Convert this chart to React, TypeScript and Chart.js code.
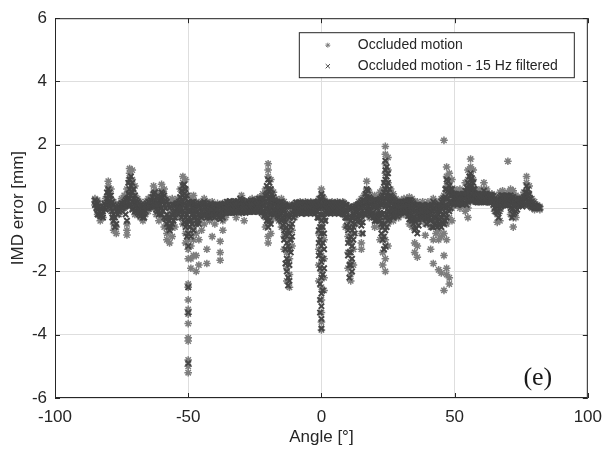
import React, { useEffect, useRef } from "react";
import { Chart, registerables } from "chart.js";

Chart.register(...registerables);

// ---------- data (angle in degrees, followed by the IMD errors in mm seen at that angle) ----------
const xTicks = [-100, -50, 0, 50, 100];
const yTicks = [-6, -4, -2, 0, 2, 4, 6];
const legendLabels = ["Occluded motion", "Occluded motion - 15 Hz filtered"];
const xTitle = "Angle [°]";
const yTitle = "IMD error [mm]";
const panelLabel = "(e)";

const occLeft: number[][] = [
  [-85, 0.3, 0.2, 0.1],
  [-84, 0.25, 0, -0.1, -0.2],
  [-83, 0.1, -0.2, -0.3, -0.4],
  [-82, 0.05, -0.3],
  [-81, 0.3, 0.1, 0],
  [-80, 0.85, 0.7, 0.55, 0.4, 0.2],
  [-79, 0.6, 0.3, 0.1, -0.1],
  [-78, 0.2, -0.3, -0.5, -0.7],
  [-77, 0.1, -0.6, -0.8],
  [-76, 0.15, 0, -0.2],
  [-75, 0.3, 0.1, -0.1],
  [-74, 0.4, 0.2, 0],
  [-73, 0.6, 0.3, -0.5, -0.7, -0.85],
  [-72, 1.25, 1.1, 0.95, 0.8, 0.5, 0.2],
  [-71, 1.2, 0.9, 0.6, 0.3, 0],
  [-70, 0.7, 0.4, 0.1, -0.2],
  [-69, 0.3, 0.1, -0.1],
  [-68, 0.2, 0, -0.3],
  [-67, 0.1, -0.1, -0.4],
  [-66, 0.2, 0, -0.2],
  [-65, 0.3, 0.1, -0.1],
  [-64, 0.35, 0.15, 0],
  [-63, 0.7, 0.5, 0.2, 0],
  [-62, 0.55, 0.3, 0.1, -0.2],
  [-61, 0.4, 0.2, 0, -0.4],
  [-60, 0.75, 0.55, 0.3, 0, -0.3],
  [-59, 0.6, 0.3, 0, -0.6],
  [-58, 0.3, 0.1, -0.5, -0.8, -1.0],
  [-57, 0.2, -0.2, -0.7, -1.1],
  [-56, 0.3, 0, -0.5, -0.9],
  [-55, 0.2, 0, -0.3, -0.6],
  [-54, 0.3, 0, -0.2],
  [-53, 0.6, 0.3, 0, -0.3],
  [-52, 1.0, 0.8, 0.5, 0.2, -0.1, -0.5],
  [-51, 0.9, 0.6, 0.3, 0, -0.4, -0.8, -1.1],
  [-50, 0.4, 0.1, -0.3, -0.6, -1.0, -1.3, -1.6, -2.4, -2.5, -2.9, -3.2, -3.35, -3.65, -4.1, -4.2, -4.8, -5.0, -5.2],
  [-49, 0.3, 0, -0.4, -0.8, -1.2, -1.6, -1.9],
  [-48, 0.4, 0.1, -0.2, -0.6, -1.0, -1.5],
  [-47, 0.2, 0, -0.3, -0.8, -1.5, -2.0],
  [-46, 0.15, -0.1, -0.4, -1.0, -1.8],
  [-45, 0.2, 0, -0.3, -0.7],
  [-44, 0.3, 0.1, -0.2, -0.5],
  [-43, 0.2, 0, -0.3, -1.3, -1.75],
  [-42, 0.15, -0.1, -0.4],
  [-41, 0.2, 0, -0.3, -0.9],
  [-40, 0.1, -0.1, -0.5],
  [-39, 0.15, -0.1, -0.3],
  [-38, 0.1, -0.2, -1.05, -1.4, -1.65],
  [-37, 0.15, -0.1, -0.4, -0.7],
  [-36, 0.1, 0, -0.3],
];

const occMid: number[][] = [
  [-35, 0.2, 0.05, -0.15],
  [-34, 0.15, -0.05],
  [-33, 0.2, 0, -0.1],
  [-32, 0.15, -0.05, -0.3],
  [-31, 0.2, 0.05, -0.1],
  [-30, 0.4, 0.2, 0, -0.15],
  [-29, 0.2, 0, -0.1, -0.4],
  [-28, 0.15, -0.05],
  [-27, 0.2, 0, -0.1],
  [-26, 0.3, 0.1, -0.1],
  [-25, 0.2, 0, -0.1],
  [-24, 0.3, 0.1, -0.05],
  [-23, 0.35, 0.15, -0.1],
  [-22, 0.45, 0.2, -0.2],
  [-21, 0.6, 0.3, 0, -0.3, -0.6],
  [-20, 1.4, 1.2, 1.0, 0.5, 0.2, -0.1, -0.5, -0.9, -1.1],
  [-19, 0.9, 0.6, 0.3, 0, -0.4, -0.8],
  [-18, 0.5, 0.2, -0.1, -0.3],
  [-17, 0.3, 0.1, -0.1, -0.2],
  [-16, 0.2, 0, -0.2, -0.4],
  [-15, 0.3, 0.1, -0.3, -0.6],
  [-14, 0.2, 0, -0.4, -0.9, -1.3],
  [-13, 0.1, -0.3, -0.8, -1.4, -1.9, -2.3],
  [-12, 0.1, -0.4, -1.0, -1.6, -2.1, -2.5],
  [-11, 0.1, -0.2, -0.7, -1.2],
  [-10, 0.15, 0, -0.3],
  [-9, 0.15, 0, -0.1],
  [-8, 0.2, 0.05],
  [-7, 0.15, -0.05],
  [-6, 0.2, 0, -0.1],
  [-5, 0.15, -0.05],
  [-4, 0.2, 0, -0.1],
  [-3, 0.15, -0.05],
  [-2, 0.2, 0, -0.15],
  [-1, 0.3, 0.1, -0.3, -0.8, -1.3, -1.8, -2.3],
  [0, 0.6, 0.4, 0.2, -0.2, -0.6, -1.0, -1.5, -2.0, -2.5, -2.9, -3.3, -3.6, -3.85],
  [1, 0.3, 0.1, -0.4, -1.0, -1.6, -2.2, -2.6],
  [2, 0.2, 0, -0.15],
  [3, 0.15, -0.05],
  [4, 0.2, 0, -0.1],
  [5, 0.15, -0.05],
  [6, 0.2, 0, -0.1],
  [7, 0.15, -0.05, -0.15],
  [8, 0.2, 0, -0.2],
  [9, 0.1, -0.3, -0.6],
  [10, 0.05, -0.4, -0.9, -1.4, -1.9],
  [11, 0, -0.5, -1.1, -1.7, -2.1, -2.3],
  [12, 0.05, -0.3, -0.8, -1.3, -1.8],
  [13, 0.1, -0.2, -0.5],
  [14, 0.2, 0, -0.3],
  [15, 0.3, 0.1, -0.4, -0.8, -1.1, -1.3],
  [16, 0.4, 0.1, -0.2],
  [17, 0.85, 0.6, 0.4, 0.1, -0.2],
  [18, 0.5, 0.3, 0, -0.3],
  [19, 0.3, 0.1, -0.2],
  [20, 0.4, 0.1, -0.3, -0.6],
  [21, 0.3, 0, -0.4],
  [22, 0.5, 0.2, -0.2, -0.6, -1.0],
  [23, 0.6, 0.3, -0.3, -0.9, -1.4, -1.8],
  [24, 1.95, 1.7, 1.4, 1.1, 0.8, 0.5, 0.2, -0.4, -1.0, -1.6, -2.0],
  [25, 1.6, 1.2, 0.8, 0.4, 0, -0.5, -1.2],
];

const occRight: number[][] = [
  [26, 0.6, 0.3, 0, -0.3],
  [27, 0.45, 0.2, -0.1, -0.4],
  [28, 0.3, 0.1, -0.2],
  [29, 0.2, 0, -0.3],
  [30, 0.25, 0, -0.2],
  [31, 0.3, 0.05, -0.2],
  [32, 0.3, 0.1, -0.15],
  [33, 0.35, 0.1, -0.2, -0.5],
  [34, 0.3, 0, -0.3, -0.6],
  [35, 0.2, -0.1, -0.6, -1.1, -1.4],
  [36, 0.2, -0.2, -0.5, -1.2, -1.55],
  [37, 0.1, -0.1, -0.4],
  [38, 0.2, 0, -0.3],
  [39, 0.1, -0.2, -0.5, -0.86],
  [40, 0.2, -0.1, -0.4],
  [41, 0.1, -0.2, -0.6, -1.3],
  [42, 0.3, 0, -0.5, -1.0, -1.75],
  [43, 0.2, -0.1, -0.4, -0.8],
  [44, 0.1, -0.3, -0.7, -1.0, -1.95],
  [45, 0.3, 0, -0.4, -0.9, -2.05],
  [46, 2.14, 0.4, 0.1, -0.3, -0.8, -1.5, -2.6],
  [47, 1.3, 1.0, 0.7, 0.4, 0, -0.5, -1.0, -1.9, -2.1],
  [48, 1.1, 0.8, 0.5, 0.2, -0.3, -2.2, -2.4],
  [49, 0.9, 0.6, 0.3, 0, -0.4],
  [50, 0.6, 0.4, 0.1],
  [51, 0.5, 0.3, 0.1],
  [52, 0.6, 0.4, 0.2, 0],
  [53, 0.5, 0.3, 0.1],
  [54, 0.8, 0.5, 0.2, -0.1],
  [55, 1.2, 0.9, 0.6, 0.3, 0, -0.3],
  [56, 1.55, 1.3, 1.0, 0.7, 0.4, 0.2],
  [57, 1.2, 0.9, 0.6, 0.3],
  [58, 0.6, 0.4, 0.2],
  [59, 0.5, 0.3, 0.2],
  [60, 0.6, 0.4, 0.2],
  [61, 0.8, 0.6, 0.3],
  [62, 0.6, 0.4, 0.2],
  [63, 0.45, 0.3, 0.2],
  [64, 0.45, 0.3, 0.2],
  [65, 0.4, 0.2, -0.1],
  [66, 0.3, 0.1, -0.2, -0.45],
  [67, 0.5, 0.3, -0.1, -0.4],
  [68, 0.55, 0.3, 0.1],
  [69, 0.4, 0.25, 0.1],
  [70, 1.48, 0.5, 0.3, 0.1],
  [71, 0.6, 0.3, 0.1, -0.2],
  [72, 0.55, 0.2, -0.3, -0.6],
  [73, 0.4, 0.1, -0.3],
  [74, 0.3, 0.1],
  [75, 0.35, 0.15],
  [76, 0.5, 0.3, 0.1],
  [77, 1.0, 0.8, 0.55, 0.3],
  [78, 0.7, 0.4, 0.1],
  [79, 0.3, 0.1, 0],
  [80, 0.2, 0, -0.05],
  [81, 0.1, 0],
  [82, 0.05, -0.05],
];

const filtLeft: number[][] = [
  [-85, 0.25, 0.1],
  [-84, 0.15, -0.05, -0.2],
  [-83, 0, -0.25],
  [-82, -0.1, -0.3],
  [-81, 0.1, -0.05],
  [-80, 0.6, 0.4, 0.2],
  [-79, 0.4, 0.15, 0],
  [-78, 0.1, -0.2, -0.4],
  [-77, -0.1, -0.5],
  [-76, 0.05, -0.1],
  [-75, 0.15, 0],
  [-74, 0.2, 0.05],
  [-73, 0.3, 0.1, -0.4],
  [-72, 0.9, 0.6, 0.3, 0.1],
  [-71, 0.8, 0.5, 0.2, -0.05],
  [-70, 0.4, 0.15, -0.1],
  [-69, 0.2, 0, -0.15],
  [-68, 0.1, -0.1, -0.25],
  [-67, 0.05, -0.2, -0.3],
  [-66, 0.1, -0.1],
  [-65, 0.2, 0],
  [-64, 0.25, 0.05],
  [-63, 0.45, 0.2, 0.05],
  [-62, 0.35, 0.15, -0.05],
  [-61, 0.25, 0.05, -0.2],
  [-60, 0.5, 0.25, 0, -0.2],
  [-59, 0.4, 0.1, -0.3],
  [-58, 0.2, -0.2, -0.5],
  [-57, 0, -0.4, -0.7],
  [-56, 0.1, -0.2, -0.5],
  [-55, 0.1, -0.1, -0.3],
  [-54, 0.15, -0.05],
  [-53, 0.35, 0.1, -0.1],
  [-52, 0.7, 0.4, 0.1, -0.2],
  [-51, 0.6, 0.3, 0, -0.3, -0.6],
  [-50, 0.2, -0.1, -0.4, -0.8, -1.2, -2.5, -3.3, -4.9],
  [-49, 0.15, -0.1, -0.4, -0.9],
  [-48, 0.2, 0, -0.3, -0.7],
  [-47, 0.1, -0.15, -0.5],
  [-46, 0.05, -0.2, -0.5],
  [-45, 0.1, -0.1, -0.3],
  [-44, 0.2, 0, -0.25],
  [-43, 0.1, -0.1, -0.3],
  [-42, 0.05, -0.15, -0.3],
  [-41, 0.1, -0.1, -0.25],
  [-40, 0.05, -0.15, -0.3],
  [-39, 0.1, -0.05, -0.2],
  [-38, 0.05, -0.15, -0.35],
  [-37, 0.1, -0.1, -0.3],
  [-36, 0.1, 0, -0.15],
];

const filtMid: number[][] = [
  [-35, 0.15, 0.05, -0.1],
  [-34, 0.12, 0, -0.1],
  [-33, 0.15, 0.05, -0.05],
  [-32, 0.12, 0.02, -0.1],
  [-31, 0.15, 0.05, -0.05],
  [-30, 0.25, 0.1, 0, -0.1],
  [-29, 0.15, 0.05, -0.05],
  [-28, 0.12, 0.02, -0.08],
  [-27, 0.15, 0.05, -0.05],
  [-26, 0.2, 0.08, -0.05],
  [-25, 0.15, 0.05, -0.05],
  [-24, 0.2, 0.1, 0],
  [-23, 0.25, 0.1, -0.05],
  [-22, 0.3, 0.1, -0.1],
  [-21, 0.4, 0.2, 0, -0.2],
  [-20, 0.9, 0.6, 0.3, 0, -0.3, -0.6],
  [-19, 0.6, 0.35, 0.1, -0.2, -0.5],
  [-18, 0.35, 0.15, -0.05, -0.2],
  [-17, 0.2, 0.05, -0.1],
  [-16, 0.15, 0, -0.15, -0.3],
  [-15, 0.2, 0.05, -0.15, -0.4],
  [-14, 0.1, -0.1, -0.35, -0.7, -1.0],
  [-13, 0.05, -0.2, -0.6, -1.1, -1.6, -2.0],
  [-12, 0.05, -0.3, -0.8, -1.3, -1.8, -2.3],
  [-11, 0.05, -0.15, -0.5, -0.9],
  [-10, 0.1, 0, -0.2],
  [-9, 0.12, 0.02, -0.08],
  [-8, 0.15, 0.05, -0.05],
  [-7, 0.12, 0.02, -0.1],
  [-6, 0.15, 0.05, -0.05],
  [-5, 0.12, 0, -0.1],
  [-4, 0.15, 0.05, -0.05],
  [-3, 0.12, 0.02, -0.1],
  [-2, 0.15, 0.03, -0.1],
  [-1, 0.2, 0, -0.3, -0.7, -1.1, -1.5],
  [0, 0.45, 0.25, 0, -0.4, -0.8, -1.2, -1.7, -2.2, -2.7, -3.1, -3.5, -3.8],
  [1, 0.2, 0, -0.3, -0.8, -1.3, -1.9],
  [2, 0.15, 0.05, -0.1],
  [3, 0.12, 0.02, -0.08],
  [4, 0.15, 0.05, -0.05],
  [5, 0.12, 0, -0.1],
  [6, 0.15, 0.05, -0.05],
  [7, 0.1, 0, -0.1],
  [8, 0.12, 0, -0.15],
  [9, 0.1, -0.1, -0.3],
  [10, 0, -0.3, -0.7, -1.1, -1.5],
  [11, -0.05, -0.4, -0.9, -1.4, -1.8],
  [12, 0, -0.2, -0.6, -1.0],
  [13, 0.05, -0.15, -0.35],
  [14, 0.12, -0.05, -0.2],
  [15, 0.2, 0, -0.25, -0.55],
  [16, 0.25, 0.05, -0.15],
  [17, 0.6, 0.35, 0.15, -0.1],
  [18, 0.35, 0.15, -0.05, -0.2],
  [19, 0.2, 0.05, -0.15],
  [20, 0.25, 0.05, -0.2, -0.4],
  [21, 0.2, 0, -0.25],
  [22, 0.3, 0.1, -0.15, -0.4],
  [23, 0.4, 0.15, -0.2, -0.6, -1.0],
  [24, 1.5, 1.2, 0.9, 0.6, 0.3, 0.05, -0.3, -0.7, -1.2],
  [25, 1.1, 0.8, 0.5, 0.2, -0.1, -0.4],
];

const filtRight: number[][] = [
  [26, 0.4, 0.2, 0, -0.2],
  [27, 0.3, 0.1, -0.1, -0.3],
  [28, 0.2, 0.05, -0.15],
  [29, 0.15, 0, -0.2],
  [30, 0.15, 0, -0.15],
  [31, 0.2, 0.03, -0.15],
  [32, 0.2, 0.05, -0.1],
  [33, 0.25, 0.05, -0.15, -0.35],
  [34, 0.2, 0, -0.2, -0.4],
  [35, 0.1, -0.1, -0.4, -0.7],
  [36, 0.1, -0.15, -0.35, -0.8],
  [37, 0.05, -0.1, -0.3],
  [38, 0.1, -0.05, -0.25],
  [39, 0.05, -0.15, -0.35],
  [40, 0.1, -0.1, -0.3],
  [41, 0.05, -0.15, -0.4],
  [42, 0.2, 0, -0.3, -0.6],
  [43, 0.1, -0.1, -0.3, -0.55],
  [44, 0.05, -0.2, -0.5],
  [45, 0.2, 0, -0.3, -0.6],
  [46, 0.3, 0.05, -0.2, -0.5],
  [47, 0.9, 0.6, 0.3, 0, -0.3],
  [48, 0.7, 0.5, 0.2, -0.1],
  [49, 0.6, 0.4, 0.15],
  [50, 0.45, 0.3, 0.15],
  [51, 0.4, 0.25, 0.1],
  [52, 0.45, 0.3, 0.15],
  [53, 0.4, 0.25, 0.1],
  [54, 0.55, 0.35, 0.15],
  [55, 0.8, 0.6, 0.4, 0.2],
  [56, 1.1, 0.9, 0.6, 0.4, 0.25],
  [57, 0.8, 0.6, 0.4, 0.25],
  [58, 0.45, 0.3, 0.2],
  [59, 0.4, 0.28, 0.2],
  [60, 0.45, 0.3, 0.2],
  [61, 0.55, 0.4, 0.25],
  [62, 0.45, 0.3, 0.2],
  [63, 0.4, 0.28, 0.18],
  [64, 0.4, 0.3, 0.2],
  [65, 0.3, 0.15, 0],
  [66, 0.2, 0.05, -0.15],
  [67, 0.35, 0.2, 0],
  [68, 0.4, 0.25, 0.1],
  [69, 0.35, 0.22, 0.1],
  [70, 0.4, 0.25, 0.1],
  [71, 0.4, 0.2, 0],
  [72, 0.35, 0.1, -0.2],
  [73, 0.3, 0.1, -0.1],
  [74, 0.25, 0.1],
  [75, 0.3, 0.15],
  [76, 0.35, 0.2, 0.1],
  [77, 0.7, 0.5, 0.3],
  [78, 0.45, 0.25, 0.1],
  [79, 0.2, 0.05],
  [80, 0.1, 0],
  [81, 0.05, 0],
  [82, 0],
];

// filtered samples read between the whole-degree columns (left part)
const filtHalfLeft: number[][] = [
  [-84.5, 0.2, 0],
  [-83.5, 0.05, -0.2],
  [-82.5, -0.05, -0.25],
  [-81.5, 0.15, 0],
  [-80.5, 0.5, 0.3, 0.1],
  [-79.5, 0.5, 0.25, 0.05],
  [-78.5, 0.2, -0.1, -0.3],
  [-77.5, 0, -0.3, -0.6],
  [-76.5, 0, -0.2],
  [-75.5, 0.1, -0.05],
  [-74.5, 0.15, 0],
  [-73.5, 0.25, 0.05, -0.2],
  [-72.5, 0.8, 0.45, 0.2],
  [-71.5, 1.0, 0.7, 0.4, 0.1],
  [-70.5, 0.6, 0.3, 0],
  [-69.5, 0.25, 0.05, -0.1],
  [-68.5, 0.15, -0.05, -0.2],
  [-67.5, 0.1, -0.15],
  [-66.5, 0.05, -0.15, -0.3],
  [-65.5, 0.15, 0],
  [-64.5, 0.2, 0.05],
  [-63.5, 0.35, 0.1],
  [-62.5, 0.5, 0.25, 0.05],
  [-61.5, 0.3, 0.1, -0.1],
  [-60.5, 0.35, 0.1, -0.15],
  [-59.5, 0.45, 0.2, -0.1],
  [-58.5, 0.25, 0, -0.35],
  [-57.5, 0.1, -0.3, -0.6],
  [-56.5, 0.05, -0.3, -0.6],
  [-55.5, 0.1, -0.15, -0.4],
  [-54.5, 0.15, 0, -0.15],
  [-53.5, 0.2, 0, -0.2],
  [-52.5, 0.55, 0.25, 0, -0.3],
  [-51.5, 0.75, 0.45, 0.15, -0.15, -0.45],
  [-50.5, 0.4, 0.1, -0.2, -0.5, -0.9],
  [-49.5, 0.15, -0.05, -0.3, -0.6],
  [-48.5, 0.2, 0, -0.2, -0.5],
  [-47.5, 0.15, -0.05, -0.3],
  [-46.5, 0.1, -0.1, -0.35],
  [-45.5, 0.15, 0, -0.2],
  [-44.5, 0.15, -0.05, -0.2],
  [-43.5, 0.15, 0, -0.2],
  [-42.5, 0.1, -0.1, -0.25],
  [-41.5, 0.15, -0.05, -0.2],
  [-40.5, 0.1, -0.1, -0.25],
  [-39.5, 0.1, -0.05, -0.2],
  [-38.5, 0.1, -0.1, -0.3],
  [-37.5, 0.12, -0.05, -0.25],
  [-36.5, 0.15, 0, -0.15],
  [-35.5, 0.2, 0.08, -0.05, -0.15],
  [-34.5, 0.22, 0.1, -0.02, -0.15],
  [-33.5, 0.2, 0.08, -0.05, -0.15],
  [-32.5, 0.22, 0.1, -0.02, -0.15],
  [-31.5, 0.22, 0.1, -0.02, -0.12],
  [-30.5, 0.3, 0.15, 0, -0.12],
  [-29.5, 0.25, 0.1, -0.02, -0.15],
  [-28.5, 0.2, 0.08, -0.05, -0.15],
  [-27.5, 0.22, 0.1, -0.02, -0.12],
  [-26.5, 0.25, 0.12, 0, -0.12],
  [-25.5, 0.22, 0.1, -0.02, -0.12],
  [-24.5, 0.25, 0.12, 0, -0.1],
  [-23.5, 0.3, 0.15, 0, -0.12],
  [-22.5, 0.3, 0.15, -0.02, -0.15],
  [-21.5, 0.3, 0.1, -0.1, -0.25],
  [-20.5, 0.7, 0.45, 0.15, -0.15, -0.4],
  [-19.5, 0.8, 0.5, 0.2, -0.1, -0.4],
  [-18.5, 0.45, 0.25, 0.05, -0.15],
  [-17.5, 0.25, 0.1, -0.05, -0.2],
  [-16.5, 0.2, 0.05, -0.1, -0.25],
  [-15.5, 0.2, 0.05, -0.15, -0.35],
  [-14.5, 0.15, -0.05, -0.3, -0.55],
  [-13.5, 0.1, -0.15, -0.45, -0.85, -1.3, -1.75],
  [-12.5, 0.05, -0.25, -0.7, -1.2, -1.7, -2.2, -2.45],
  [-11.5, 0.05, -0.2, -0.6, -1.0, -1.4],
  [-10.5, 0.1, -0.05, -0.3],
  [-9.5, 0.18, 0.06, -0.06, -0.16],
  [-8.5, 0.18, 0.06, -0.06, -0.16],
  [-7.5, 0.16, 0.04, -0.08, -0.18],
  [-6.5, 0.18, 0.06, -0.06, -0.16],
  [-5.5, 0.16, 0.04, -0.08, -0.18],
  [-4.5, 0.18, 0.06, -0.06, -0.16],
  [-3.5, 0.18, 0.06, -0.06, -0.16],
  [-2.5, 0.16, 0.04, -0.08, -0.18],
  [-1.5, 0.2, 0.05, -0.1, -0.3],
  [-0.5, 0.3, 0.1, -0.2, -0.6, -1.0, -1.4, -1.9, -2.4, -2.9, -3.3],
];

// filtered samples read between the whole-degree columns (right part)
const filtHalfRight: number[][] = [
  [0.5, 0.35, 0.1, -0.2, -0.6, -1.1, -1.6, -2.1, -2.6],
  [1.5, 0.18, 0.02, -0.15, -0.4],
  [2.5, 0.18, 0.06, -0.06, -0.16],
  [3.5, 0.16, 0.04, -0.08, -0.18],
  [4.5, 0.18, 0.06, -0.06, -0.16],
  [5.5, 0.18, 0.06, -0.06, -0.16],
  [6.5, 0.16, 0.04, -0.08, -0.18],
  [7.5, 0.18, 0.06, -0.06, -0.16],
  [8.5, 0.16, 0.02, -0.1, -0.2],
  [9.5, 0.1, -0.1, -0.3, -0.55],
  [10.5, 0.05, -0.25, -0.6, -1.0, -1.4, -1.8, -2.2],
  [11.5, 0, -0.3, -0.7, -1.2, -1.6, -2.0],
  [12.5, 0.05, -0.2, -0.5, -0.8],
  [13.5, 0.1, -0.1, -0.3],
  [14.5, 0.15, 0, -0.2, -0.4],
  [15.5, 0.25, 0.05, -0.2, -0.45, -0.8],
  [16.5, 0.45, 0.2, 0, -0.2],
  [17.5, 0.55, 0.3, 0.05, -0.15],
  [18.5, 0.3, 0.1, -0.1, -0.25],
  [19.5, 0.25, 0.05, -0.15, -0.3],
  [20.5, 0.25, 0.05, -0.2, -0.4],
  [21.5, 0.25, 0.05, -0.2, -0.35],
  [22.5, 0.35, 0.1, -0.2, -0.5, -0.8],
  [23.5, 0.8, 0.5, 0.2, -0.15, -0.5, -0.9, -1.3],
  [24.5, 1.3, 1.0, 0.7, 0.4, 0.1, -0.2, -0.6],
  [25.5, 0.6, 0.35, 0.1, -0.15, -0.35],
  [26.5, 0.35, 0.15, -0.05, -0.25],
  [27.5, 0.25, 0.08, -0.1, -0.25],
  [28.5, 0.2, 0.05, -0.1, -0.25],
  [29.5, 0.2, 0.03, -0.15],
  [30.5, 0.2, 0.05, -0.12],
  [31.5, 0.22, 0.05, -0.12],
  [32.5, 0.25, 0.08, -0.1, -0.25],
  [33.5, 0.25, 0.05, -0.15, -0.35],
  [34.5, 0.15, -0.05, -0.3, -0.5],
  [35.5, 0.1, -0.1, -0.35, -0.65],
  [36.5, 0.05, -0.15, -0.35, -0.55],
  [37.5, 0.08, -0.1, -0.3],
  [38.5, 0.08, -0.1, -0.3],
  [39.5, 0.05, -0.15, -0.35, -0.5],
  [40.5, 0.08, -0.12, -0.3],
  [41.5, 0.1, -0.1, -0.35, -0.6],
  [42.5, 0.15, -0.05, -0.3, -0.5],
  [43.5, 0.05, -0.15, -0.4, -0.6],
  [44.5, 0.1, -0.1, -0.35, -0.55],
  [45.5, 0.25, 0.05, -0.2, -0.45],
  [46.5, 0.6, 0.35, 0.1, -0.15, -0.4],
  [47.5, 0.85, 0.55, 0.3, 0.05],
  [48.5, 0.6, 0.4, 0.2, 0],
  [49.5, 0.45, 0.3, 0.15],
  [50.5, 0.42, 0.28, 0.14],
  [51.5, 0.45, 0.3, 0.15],
  [52.5, 0.42, 0.28, 0.14],
  [53.5, 0.45, 0.3, 0.15],
  [54.5, 0.65, 0.45, 0.25, 0.1],
  [55.5, 1.0, 0.75, 0.5, 0.3],
  [56.5, 0.95, 0.7, 0.45, 0.25],
  [57.5, 0.6, 0.4, 0.25],
  [58.5, 0.42, 0.3, 0.18],
  [59.5, 0.42, 0.3, 0.18],
  [60.5, 0.45, 0.32, 0.2],
  [61.5, 0.45, 0.3, 0.18],
  [62.5, 0.42, 0.3, 0.18],
  [63.5, 0.42, 0.3, 0.18],
  [64.5, 0.38, 0.25, 0.1],
  [65.5, 0.25, 0.1, -0.1],
  [66.5, 0.25, 0.1, -0.1, -0.3],
  [67.5, 0.4, 0.22, 0.05],
  [68.5, 0.38, 0.24, 0.1],
  [69.5, 0.38, 0.24, 0.1],
  [70.5, 0.38, 0.24, 0.1],
  [71.5, 0.35, 0.15, -0.05, -0.3],
  [72.5, 0.3, 0.1, -0.15],
  [73.5, 0.25, 0.1, -0.05],
  [74.5, 0.25, 0.12],
  [75.5, 0.3, 0.15, 0.05],
  [76.5, 0.5, 0.3, 0.15],
  [77.5, 0.6, 0.4, 0.2],
  [78.5, 0.3, 0.15, 0.05],
  [79.5, 0.15, 0.03],
  [80.5, 0.08, 0],
  [81.5, 0.03],
];

// ---------- styling ----------
const OCC_COLOR = "#7d7d7d";
const FILT_COLOR = "#464646";
const AXIS_COLOR = "#262626";
const FONT = "'Liberation Sans', Arial, Helvetica, sans-serif";

const toPoints = (cols: number[][]) =>
  cols.flatMap(([a, ...es]) => es.map((e) => ({ x: a, y: e })));

function drawStar(ctx: CanvasRenderingContext2D, x: number, y: number, r: number) {
  ctx.beginPath();
  ctx.moveTo(x - r, y); ctx.lineTo(x + r, y);
  ctx.moveTo(x, y - r); ctx.lineTo(x, y + r);
  const d = r * 0.707;
  ctx.moveTo(x - d, y - d); ctx.lineTo(x + d, y + d);
  ctx.moveTo(x - d, y + d); ctx.lineTo(x + d, y - d);
  ctx.stroke();
}
function drawCross(ctx: CanvasRenderingContext2D, x: number, y: number, r: number) {
  const d = r * 0.707;
  ctx.beginPath();
  ctx.moveTo(x - d, y - d); ctx.lineTo(x + d, y + d);
  ctx.moveTo(x - d, y + d); ctx.lineTo(x + d, y - d);
  ctx.stroke();
}

const overlayPlugin = {
  id: "overlay",
  afterDraw(chart: any) {
    const ctx: CanvasRenderingContext2D = chart.ctx;
    const { left, right, top, bottom } = chart.chartArea;
    const xs = chart.scales.x;
    const ys = chart.scales.y;
    ctx.save();
    // axes box and inner tick marks
    ctx.strokeStyle = AXIS_COLOR;
    ctx.lineWidth = 1;
    ctx.beginPath();
    xTicks.forEach((v) => {
      const px = Math.round(xs.getPixelForValue(v)) + 0.5;
      ctx.moveTo(px, bottom); ctx.lineTo(px, bottom - 5);
      ctx.moveTo(px, top); ctx.lineTo(px, top + 5);
    });
    yTicks.forEach((v) => {
      const py = Math.round(ys.getPixelForValue(v)) + 0.5;
      ctx.moveTo(left, py); ctx.lineTo(left + 5, py);
      ctx.moveTo(right, py); ctx.lineTo(right - 5, py);
    });
    ctx.stroke();
    ctx.strokeRect(left + 0.5, top + 0.5, right - left - 1, bottom - top - 1);

    // legend box
    const bx = right - 289, by = top + 14, bw = 275, bh = 45;
    ctx.fillStyle = "#ffffff";
    ctx.fillRect(bx, by, bw, bh);
    ctx.strokeStyle = AXIS_COLOR;
    ctx.strokeRect(bx + 0.5, by + 0.5, bw, bh);
    ctx.lineWidth = 1;
    ctx.strokeStyle = OCC_COLOR;
    drawStar(ctx, bx + 29, by + 13, 2.5);
    ctx.strokeStyle = FILT_COLOR;
    drawCross(ctx, bx + 29, by + 34, 3);
    ctx.fillStyle = AXIS_COLOR;
    ctx.font = `14px ${FONT}`;
    ctx.textAlign = "left";
    ctx.textBaseline = "middle";
    ctx.fillText(legendLabels[0], bx + 59, by + 13);
    ctx.fillText(legendLabels[1], bx + 59, by + 34);

    // panel label
    ctx.font = "26px 'Liberation Serif', 'Times New Roman', serif";
    ctx.fillStyle = "#1a1a1a";
    ctx.textAlign = "center";
    ctx.textBaseline = "middle";
    ctx.fillText(panelLabel, right - 50, bottom - 20);
    ctx.restore();
  },
};

export default function App() {
  const canvasRef = useRef<HTMLCanvasElement | null>(null);

  useEffect(() => {
    if (!canvasRef.current) return;
    const occData = [...toPoints(occLeft), ...toPoints(occMid), ...toPoints(occRight)];
    const filtData = [
      ...toPoints(filtLeft), ...toPoints(filtMid), ...toPoints(filtRight),
      ...toPoints(filtHalfLeft), ...toPoints(filtHalfRight),
    ];
    const chart = new Chart(canvasRef.current, {
      type: "scatter",
      data: {
        datasets: [
          {
            label: legendLabels[0],
            data: occData,
            order: 1,
            pointStyle: "star",
            pointRadius: 3.8,
            borderWidth: 1.5,
            borderColor: OCC_COLOR,
            backgroundColor: OCC_COLOR,
          },
          {
            label: legendLabels[1],
            data: filtData,
            order: 0,
            pointStyle: "crossRot",
            pointRadius: 3.8,
            borderWidth: 2,
            borderColor: FILT_COLOR,
            backgroundColor: FILT_COLOR,
          },
        ],
      },
      options: {
        responsive: false,
        animation: false,
        events: [],
        layout: { padding: { left: 0, top: 13, right: 19, bottom: 0 } },
        plugins: { legend: { display: false }, tooltip: { enabled: false } },
        scales: {
          x: {
            type: "linear",
            min: -100,
            max: 100,
            afterBuildTicks: (s: any) => { s.ticks = xTicks.map((v) => ({ value: v })); },
            afterFit: (s: any) => { s.height = 59; },
            grid: { color: "#dedede", drawTicks: false, lineWidth: 1 },
            border: { display: false },
            ticks: { color: AXIS_COLOR, padding: 9, font: { family: FONT, size: 17 }, maxRotation: 0 },
            title: { display: true, text: xTitle, color: AXIS_COLOR, font: { family: FONT, size: 17 }, padding: { top: 0, bottom: 9 } },
          },
          y: {
            type: "linear",
            min: -6,
            max: 6,
            afterBuildTicks: (s: any) => { s.ticks = yTicks.map((v) => ({ value: v })); },
            afterFit: (s: any) => { s.width = 55; },
            grid: { color: "#dedede", drawTicks: false, lineWidth: 1 },
            border: { display: false },
            ticks: { color: AXIS_COLOR, padding: 8, font: { family: FONT, size: 17 } },
            title: { display: true, text: yTitle, color: AXIS_COLOR, font: { family: FONT, size: 17 }, padding: { top: 8, bottom: 0 } },
          },
        },
      },
      plugins: [overlayPlugin],
    });
    return () => chart.destroy();
  }, []);

  return (
    <div style={{ position: "absolute", left: 0, top: 0, width: 611, height: 457, background: "#fff" }}>
      <canvas ref={canvasRef} width={611} height={457} style={{ display: "block" }} />
    </div>
  );
}
